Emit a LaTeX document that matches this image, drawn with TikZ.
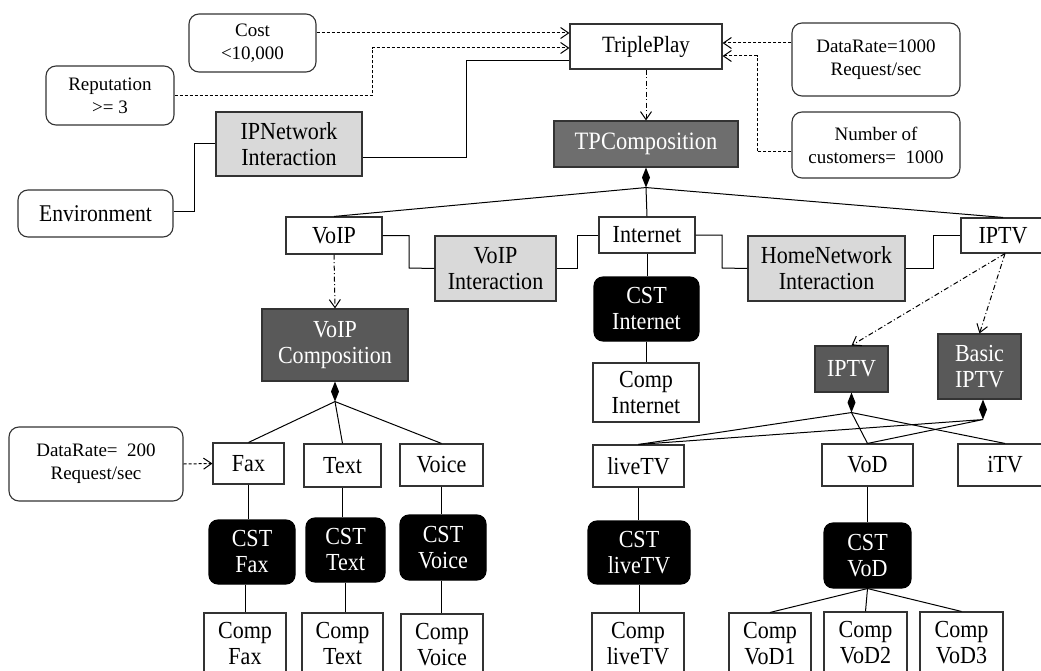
\documentclass[tikz,border=0pt]{standalone}
\usepackage{fontspec}
\setmainfont{Liberation Serif}
\newfontfamily\tallfont{Liberation Serif}[FakeStretch=0.9]
\usetikzlibrary{arrows.meta}
\definecolor{lg}{HTML}{D9D9D9}
\definecolor{dg}{HTML}{595959}
\definecolor{mg}{HTML}{6E6E6E}
\definecolor{bd}{HTML}{333333}
\begin{document}
\begin{tikzpicture}[x=1pt,y=-1pt,
 every node/.style={inner sep=0pt, align=center},
 wh/.style 2 args={minimum width=#1, minimum height=#2},
 box/.style={draw=bd, line width=1.1pt, fill=white, font=\tallfont\fontsize{24.5}{26}\selectfont},
 rbox/.style={box, rounded corners=10pt, font=\fontsize{19}{23}\selectfont},
 lbox/.style={box, fill=lg},
 dbox/.style={box, fill=dg, text=white},
 cst/.style={box, fill=black, draw=black, rounded corners=9pt, text=white},
 conn/.style={line width=1pt, draw=black},
 dsh/.style={conn, dash pattern=on 3pt off 2pt},
 dd/.style={conn, dash pattern=on 5pt off 2.5pt on 1pt off 2.5pt},
 arr/.style={-{Straight Barb[length=8pt,width=11pt]}},
 diam/.pic={\fill[black] (0,0) -- (4,10) -- (0,20) -- (-4,10) -- cycle;},
]
\useasboundingbox (0,0) rectangle (1041,671);
\clip (0,0) rectangle (1041,671);

% top area
\node[box, wh={152}{45}, font=\tallfont\fontsize{23.3}{26}\selectfont] (tp) at (646,46.5) {TriplePlay};
\node[rbox, wh={127}{58}] (cost) at (252.5,43) {Cost\\<10,000};
\node[rbox, wh={128}{59}] (rep) at (110,95.5) {Reputation\\>= 3};
\node[lbox, wh={146}{64}] (ipnet) at (289,144) {IPNetwork\\Interaction};
\node[rbox, wh={155}{47}, font=\tallfont\fontsize{24}{26}\selectfont] (env) at (95.5,213.5) {Environment};
\node[rbox, wh={168}{73}] (dr1000) at (876,59.5) {DataRate=1000\\Request/sec};
\node[rbox, wh={168}{66}] (ncust) at (876,145) {Number of\\customers=~~1000};
\node[dbox, fill=mg, wh={184}{46}, font=\tallfont\fontsize{25}{26}\selectfont] (tpc) at (646,144) {TPComposition};

% second level
\node[box, wh={96}{37}] (voip) at (334,235.5) {VoIP};
\node[lbox, wh={121}{65}] (voipint) at (495.5,268.5) {VoIP\\Interaction};
\node[box, wh={96}{36}] (internet) at (647,235) {Internet};
\node[lbox, wh={157}{65}] (hnint) at (826.5,268.5) {HomeNetwork\\Interaction};
\node[box, wh={84}{35}] (iptv) at (1003,235.5) {IPTV};

\node[cst, wh={105}{64}] (cstint) at (646.5,309) {CST\\Internet};
\node[box, wh={106}{59}] (compint) at (646,392.5) {Comp\\Internet};

\node[dbox, wh={146}{72}] (voipcomp) at (335,345) {VoIP\\Composition};
\node[dbox, wh={73}{46}] (iptvc) at (851.5,369) {IPTV};
\node[dbox, wh={83}{65}] (basic) at (979.5,366.5) {Basic\\IPTV};

% VoIP branch
\node[rbox, wh={174}{74}] (dr200) at (96,464) {DataRate=~~200\\Request/sec};
\node[box, wh={71}{41}] (fax) at (248.5,463.5) {Fax};
\node[box, wh={77}{43}] (txt) at (342.5,465.5) {Text};
\node[box, wh={83}{42}] (voice) at (441.5,465) {Voice};
\node[cst, wh={86}{64}] (cstfax) at (252,552) {CST\\Fax};
\node[cst, wh={79}{64}] (csttxt) at (345.5,550) {CST\\Text};
\node[cst, wh={86}{65}] (cstvoice) at (443,547.5) {CST\\Voice};
\node[box, wh={82}{62}] (compfax) at (245,644) {Comp\\Fax};
\node[box, wh={81}{62}] (comptxt) at (342.5,644) {Comp\\Text};
\node[box, wh={82}{62}] (compvoice) at (442,645) {Comp\\Voice};

% IPTV branch
\node[box, wh={91}{42}] (livetv) at (638.5,466) {liveTV};
\node[box, wh={91}{42}] (vod) at (867.5,465) {VoD};
\node[box, wh={94}{42}] (itv) at (1005,465) {iTV};
\node[cst, wh={102}{63}] (cstlive) at (639,552.5) {CST\\liveTV};
\node[cst, wh={87}{65}] (cstvod) at (867.5,555.5) {CST\\VoD};
\node[box, wh={92}{62}] (complive) at (638,644) {Comp\\liveTV};
\node[box, wh={82}{62}] (compvod1) at (770,644) {Comp\\VoD1};
\node[box, wh={83}{62}] (compvod2) at (865.5,643) {Comp\\VoD2};
\node[box, wh={83}{62}] (compvod3) at (961.5,643) {Comp\\VoD3};

% constraint connectors
\draw[dsh,arr] (cost.east |- 0,33) -- (tp.west |- 0,33);
\draw[dsh,arr] (rep.east |- 0,96) -| (372,48) -- (tp.west |- 0,48);
\draw[conn] (ipnet.east |- 0,158) -| (466,61) -- (tp.west |- 0,61);
\draw[conn] (env.east |- 0,212) -| (194,144) -- (ipnet.west);
\draw[dsh,arr] (dr1000.west |- 0,43) -- (tp.east |- 0,43);
\draw[dsh,arr] (ncust.west |- 0,152) -| (757,56) -- (tp.east |- 0,56);
\draw[dd,arr] (tp.south) -- (tpc.north);

% TP composition
\pic at (tpc.south) {diam};
\path (tpc.south) ++(0,20) coordinate (dtp);
\draw[conn] (voip.north) -- (dtp) -- (iptv.north);
\draw[conn] (dtp) -- (internet.north);

% interactions
\draw[conn] (voip.east) -| (409,268) -- (voipint.west);
\draw[conn] (voipint.east) -| (577,235) -- (internet.west);
\draw[conn] (internet.east) -| (722,268) -- (hnint.west);
\draw[conn] (hnint.east) -| (933,235.5) -- (iptv.west);

% internet chain
\draw[conn] (internet.south) -- (internet.south |- cstint.north);
\draw[conn] (cstint.south) -- (cstint.south |- compint.north);

% VoIP composition
\draw[dd,arr] (voip.south) -- (voipcomp.north);
\pic at (voipcomp.south) {diam};
\path (voipcomp.south) ++(0,20) coordinate (dvoip);
\draw[conn] (fax.north) -- (dvoip) -- (voice.north);
\draw[conn] (dvoip) -- (txt.north);
\draw[dsh,arr] (dr200.east) -- (fax.west);
\draw[conn] (fax.south) -- (fax.south |- cstfax.north);
\draw[conn] (compfax.north |- cstfax.south) -- (compfax.north);
\draw[conn] (txt.south) -- (txt.south |- csttxt.north);
\draw[conn] (csttxt.south) -- (csttxt.south |- comptxt.north);
\draw[conn] (voice.south) -- (voice.south |- cstvoice.north);
\draw[conn] (voice.south |- cstvoice.south) -- (voice.south |- compvoice.north);

% IPTV compositions
\draw[dd,arr] (iptv.south) ++(2,0) coordinate (iptvs) -- (iptvc.north);
\draw[dd,arr] (iptvs) -- (basic.north);
\pic at (iptvc.south) {diam};
\path (iptvc.south) ++(0,20) coordinate (diptv);
\pic at (basic.south -| 983,0) {diam};
\path (basic.south -| 983,0) ++(0,20) coordinate (dbasic);
\draw[conn] (livetv.north) -- (diptv) -- (itv.north);
\draw[conn] (diptv) -- (vod.north);
\draw[conn] (livetv.north) -- (dbasic) -- (vod.north);

\draw[conn] (livetv.south) -- (livetv.south |- cstlive.north);
\draw[conn] (cstlive.south) -- (cstlive.south |- complive.north);
\draw[conn] (vod.south) -- (vod.south |- cstvod.north);
\draw[conn] (compvod1.north) -- (cstvod.south) -- (compvod3.north);
\draw[conn] (cstvod.south) -- (compvod2.north);
\end{tikzpicture}
\end{document}
